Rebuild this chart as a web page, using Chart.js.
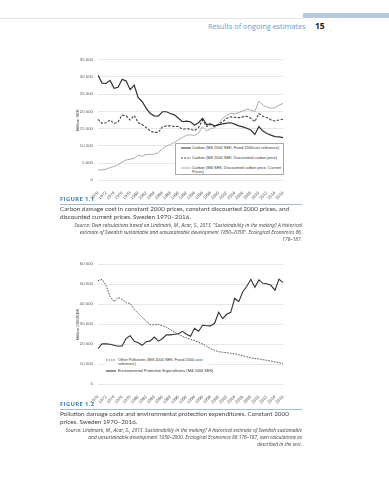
<!DOCTYPE html>
<html>
<head>
<meta charset="utf-8">
<script src="https://cdn.jsdelivr.net/npm/chart.js@4"></script>
<style>
  body { margin: 0; background: #fff; }
  #page { position: relative; width: 389px; height: 480px; overflow: hidden; font-family: "Open Sans", sans-serif; }
  .abs { position: absolute; white-space: nowrap; }
  .hdr { font-size: 7.3px; color: #6a9bc8; }
  .pg { font-size: 8.5px; font-weight: bold; color: #222; }
  .fig { font-size: 5.8px; font-weight: bold; color: #3f7cb8; letter-spacing: 0.4px; }
  .rule { position: absolute; height: 0; border-top: 0.8px solid #9fbcd8; }
  .cap { font-family: Lato, sans-serif; font-weight: 400; font-size: 6.3px; color: #444; line-height: 8.4px; }
  .src { font-size: 4.9px; font-style: italic; color: #444; text-align: right; line-height: 7px; }
  .leg { position: absolute; background: #fff; font-family: "Liberation Sans", sans-serif; font-size: 3.9px; color: #333; }
  .leg .row { position: absolute; white-space: nowrap; line-height: 4.6px; }
  .leg svg { position: absolute; }
  canvas { position: absolute; }
</style>
</head>
<body>
<div id="page">
  <div class="abs" style="left:0;top:18px;width:303px;border-top:0.8px solid #dfe5ec;"></div>
  <div class="abs" style="left:303px;top:13px;width:86px;height:5px;background:#b9c9dd;"></div>
  <div class="abs hdr" style="left:208px;top:21px;">Results of ongoing estimates</div>
  <div class="abs pg" style="left:315px;top:20px;">15</div>

  <canvas id="c1" width="250" height="150" style="left:40px;top:52px;"></canvas>
  <div class="leg" style="left:175px;top:143px;width:107px;height:30px;border:0.8px solid #a8a8a8;">
    <svg width="10" height="4" style="left:5px;top:2px;"><line x1="0" y1="2" x2="10" y2="2" stroke="#333" stroke-width="1"/></svg>
    <div class="row" style="left:16px;top:1.5px;">Carbon (Mill 2000 SEK. Fixed 2000cost reference)</div>
    <svg width="10" height="4" style="left:5px;top:12px;"><line x1="0" y1="2" x2="10" y2="2" stroke="#444" stroke-width="1" stroke-dasharray="2,1.2"/></svg>
    <div class="row" style="left:16px;top:11.5px;">Carbon (Mill 2000 SEK. Discounted carbon price)</div>
    <svg width="10" height="4" style="left:5px;top:22px;"><line x1="0" y1="2" x2="10" y2="2" stroke="#aaa" stroke-width="1"/></svg>
    <div class="row" style="left:16px;top:21.5px;">Carbon (Mill SEK. Discounted carbon price, Current<br>Prices)</div>
  </div>

  <div class="abs fig" style="left:60px;top:195px;">FIGURE 1.1</div>
  <div class="rule" style="left:60px;top:204px;width:242px;"></div>
  <div class="abs cap" style="left:60px;top:205px;">Carbon damage cost in constant 2000 prices, constant discounted 2000 prices, and<br>discounted current prices. Sweden 1970–2016.</div>
  <div class="abs src" style="right:87px;top:222px;">Source: Own calculations based on Lindmark, M., Acar, S., 2013. "Sustainability in the making? A historical<br>estimate of Swedish sustainable and unsustainable development 1850–2050". Ecological Economics 86,<br>176–187.</div>

  <canvas id="c2" width="250" height="150" style="left:40px;top:256px;"></canvas>
  <div class="leg" style="left:105px;top:357px;width:104px;height:17px;">
    <svg width="10" height="4" style="left:1px;top:1px;"><line x1="0" y1="2" x2="10" y2="2" stroke="#444" stroke-width="0.8" stroke-dasharray="1.5,1"/></svg>
    <div class="row" style="left:13px;top:0.5px;">Other Pollutants (Mill 2000 SEK. Fixed 2000-cost<br>reference)</div>
    <svg width="10" height="4" style="left:1px;top:12px;"><line x1="0" y1="2" x2="10" y2="2" stroke="#333" stroke-width="1"/></svg>
    <div class="row" style="left:13px;top:11.5px;">Environmental Protection Expenditures (Mill 2000 SEK)</div>
  </div>

  <div class="abs fig" style="left:60px;top:400px;">FIGURE 1.2</div>
  <div class="rule" style="left:60px;top:408.5px;width:242px;"></div>
  <div class="abs cap" style="left:60px;top:410px;">Pollution damage costs and environmental protection expenditures. Constant 2000<br>prices. Sweden 1970–2016.</div>
  <div class="abs src" style="right:87px;top:427px;">Source: Lindmark, M., Acar, S., 2013. Sustainability in the making? A historical estimate of Swedish sustainable<br>and unsustainable development 1850–2000. Ecological Economics 86 176–187, own calculations as<br>described in the text.</div>
</div>

<script>
var years = [1970,1971,1972,1973,1974,1975,1976,1977,1978,1979,1980,1981,1982,1983,1984,1985,1986,1987,1988,1989,
  1990,1991,1992,1993,1994,1995,1996,1997,1998,1999,2000,2001,2002,2003,2004,2005,2006,2007,2008,2009,
  2010,2011,2012,2013,2014,2015,2016];

// figure 1.1 (Mill SEK)
var carbonFixed = [30500,28200,28100,29000,26700,27000,29300,28800,26300,27600,24000,22800,20900,19400,18700,18600,19900,19900,19400,19000,
  18000,17000,17200,17000,16000,16700,18000,16200,16400,15800,16100,16400,16600,16700,16300,15800,15500,15100,14600,13300,
  15600,14300,13600,13100,12700,12600,12400];
var carbonDisc = [17700,16500,16700,17500,16500,17000,18900,18700,17500,18800,16700,16200,15300,14300,13900,13900,15500,15800,15800,15600,
  15600,14800,15000,14800,14400,15300,17500,15600,16200,15600,16300,17000,18000,18400,18300,18200,18400,18600,18000,17000,
  19400,18600,18200,17500,17200,17500,17700];
var carbonCurrent = [3000,3000,3200,3700,4000,4500,5300,5900,6100,6400,7300,7000,7500,7500,7600,8000,9200,9900,10400,11000,
  11800,12400,13100,13200,13000,13700,15500,14300,15000,15300,16500,18000,18900,19400,19300,19700,20100,20600,20400,19900,
  23000,21800,21300,20900,21100,21800,22300];

// figure 1.2 (Mill 2000 SEK)
var otherPoll = [51800,52500,49500,44000,41300,43500,42500,40800,40500,37500,35500,33500,31500,29800,29700,30000,29300,28500,27300,26000,
  25000,24000,23200,22500,21800,21000,20200,19000,17800,17000,16300,16000,15800,15500,15200,14800,14300,13700,13200,12900,
  12700,12300,12000,11600,11200,10800,10400];
var envProt = [17800,20300,20200,20000,19500,19000,19200,23000,24300,21500,20800,19500,21300,21700,23600,21600,22800,24700,24700,25000,
  25300,26500,25000,24000,28000,26500,29500,29300,29200,30500,36000,32800,35000,36000,43000,41300,46300,49000,52500,48500,
  52200,50500,50300,49500,47000,52600,50800];

var yMax1 = 35000, yStep1 = 5000;
var yMax2 = 60000, yStep2 = 10000;

function fmt(v) {
  return String(v).replace(/\B(?=(\d{3})+(?!\d))/g, ' ');
}

function makeChart(id, datasets, yMax, yStep, yTitle, topPad) {
  return new Chart(document.getElementById(id), {
    type: 'line',
    data: { labels: years, datasets: datasets },
    options: {
      responsive: false,
      animation: false,
      devicePixelRatio: 1,
      layout: { padding: { left: 34, right: 7, top: topPad, bottom: 0 } },
      plugins: { legend: { display: false }, tooltip: { enabled: false } },
      elements: { point: { radius: 0 }, line: { tension: 0 } },
      scales: {
        x: {
          grid: { display: false },
          border: { display: false },
          ticks: {
            autoSkip: false, maxRotation: 45, minRotation: 45, padding: 2,
            color: '#555', font: { family: 'Liberation Sans', size: 4.3 },
            callback: function (v, i) { return i % 2 === 0 ? years[i] : ''; }
          },
          afterFit: function (s) { s.height = 21.7; }
        },
        y: {
          min: 0, max: yMax,
          grid: { color: '#dcdcdc', lineWidth: 0.7, drawTicks: false },
          border: { display: false },
          ticks: { stepSize: yStep, padding: 5, color: '#555', font: { family: 'Liberation Sans', size: 4.3 },
            callback: function (v) { return fmt(v); } },
          title: { display: true, text: yTitle, color: '#444', padding: { top: 1, bottom: 0 },
            font: { family: 'Liberation Sans', size: 4.3 } },
          afterFit: function (s) { s.width = 24; }
        }
      }
    }
  });
}

makeChart('c1', [
  { data: carbonFixed, borderColor: '#333', borderWidth: 1.2 },
  { data: carbonDisc, borderColor: '#444', borderWidth: 1.1, borderDash: [2.5, 1.5] },
  { data: carbonCurrent, borderColor: '#ababab', borderWidth: 1 }
], yMax1, yStep1, 'Million SEK', 7.7);

makeChart('c2', [
  { data: otherPoll, borderColor: '#444', borderWidth: 0.9, borderDash: [1.6, 1.2] },
  { data: envProt, borderColor: '#333', borderWidth: 1.1 }
], yMax2, yStep2, 'Million 2000SEK', 8.3);
</script>
</body>
</html>
